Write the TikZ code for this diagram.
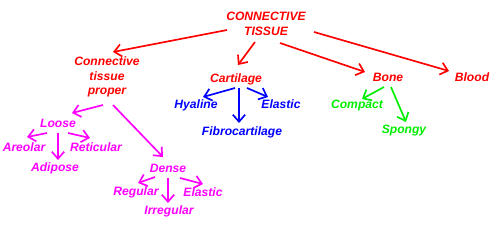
\documentclass[tikz,border=0pt]{standalone}
\usepackage{fontspec}
\setmainfont{Liberation Sans}
\usetikzlibrary{arrows.meta,calc}
\definecolor{ctRed}{HTML}{FF0000}
\definecolor{ctBlue}{HTML}{0000FF}
\definecolor{ctGreen}{HTML}{00EE00}
\definecolor{ctMagenta}{HTML}{FF00FF}

\begin{document}
\begin{tikzpicture}[
  x=0.02cm, y=-0.02cm,
  every node/.style={inner sep=0pt, align=center,
                     font=\fontsize{6.9}{8.2}\selectfont\bfseries\itshape},
  link/.style={line width=0.95pt, -{Straight Barb[length=4pt,width=7pt]}},
]
\useasboundingbox (0,0) rectangle (504,250);

\node[ctRed] (ct)   at (266,24)  {CONNECTIVE\\TISSUE};
\node[ctRed] (ctp)  at (107,77)  {Connective\\tissue\\proper};
\node[ctRed] (cart) at (236,79)  {Cartilage};
\node[ctRed] (bone) at (388,77)  {Bone};
\node[ctRed] (blood) at (472,77) {Blood};

\node[ctBlue] (hyal) at (196,105)  {Hyaline};
\node[ctBlue] (elas) at (281,104)  {Elastic};
\node[ctBlue] (fibro) at (242,132) {Fibrocartilage};

\node[ctGreen] (comp) at (357,106) {Compact};
\node[ctGreen] (spon) at (404,131) {Spongy};

\node[ctMagenta] (loose) at (58,123)  {Loose};
\node[ctMagenta] (areo)  at (24,147)  {Areolar};
\node[ctMagenta] (reti)  at (96,147)  {Reticular};
\node[ctMagenta] (adip)  at (55,168)  {Adipose};
\node[ctMagenta] (dense) at (168,168) {Dense};
\node[ctMagenta] (regu)  at (136,192) {Regular};
\node[ctMagenta] (irre)  at (169,211) {Irregular};
\node[ctMagenta] (elas2) at (203,192) {Elastic};

\draw[link,ctRed] ($(ct)+(-39,6)$)  -- ($(ctp)+(6,-25)$);
\draw[link,ctRed] ($(ct)+(-11,18)$) -- ($(cart)+(2,-14)$);
\draw[link,ctRed] ($(ct)+(14,19)$)  -- ($(bone)+(-23,-5)$);
\draw[link,ctRed] ($(ct)+(48,8)$)   -- ($(blood)+(-23,-6)$);

\draw[link,ctBlue] ($(cart)+(-1,9)$) -- ($(hyal)+(7,-8)$);
\draw[link,ctBlue] ($(cart)+(3,9)$)  -- ($(fibro)+(-3,-9)$);
\draw[link,ctBlue] ($(cart)+(11,9)$) -- ($(elas)+(-13,-7)$);

\draw[link,ctGreen] ($(bone)+(-4,10)$) -- ($(comp)+(5,-7)$);
\draw[link,ctGreen] ($(bone)+(3,10)$)  -- ($(spon)+(2,-9)$);

\draw[link,ctMagenta] ($(ctp)+(-4,28)$) -- ($(loose)+(14,-10)$);
\draw[link,ctMagenta] ($(ctp)+(6,28)$)  -- ($(dense)+(-5,-11)$);
\draw[link,ctMagenta] ($(loose)+(-11,10)$) -- ($(areo)+(3,-10)$);
\draw[link,ctMagenta] ($(loose)+(0,10)$)   -- ($(adip)+(3,-8)$);
\draw[link,ctMagenta] ($(loose)+(10,10)$)  -- ($(reti)+(-6,-9)$);
\draw[link,ctMagenta] ($(dense)+(-13,9)$)  -- ($(regu)+(2,-9)$);
\draw[link,ctMagenta] ($(dense)+(0,10)$)   -- ($(irre)+(-1,-8)$);
\draw[link,ctMagenta] ($(dense)+(12,10)$)  -- ($(elas2)+(0,-8)$);
\end{tikzpicture}
\end{document}
